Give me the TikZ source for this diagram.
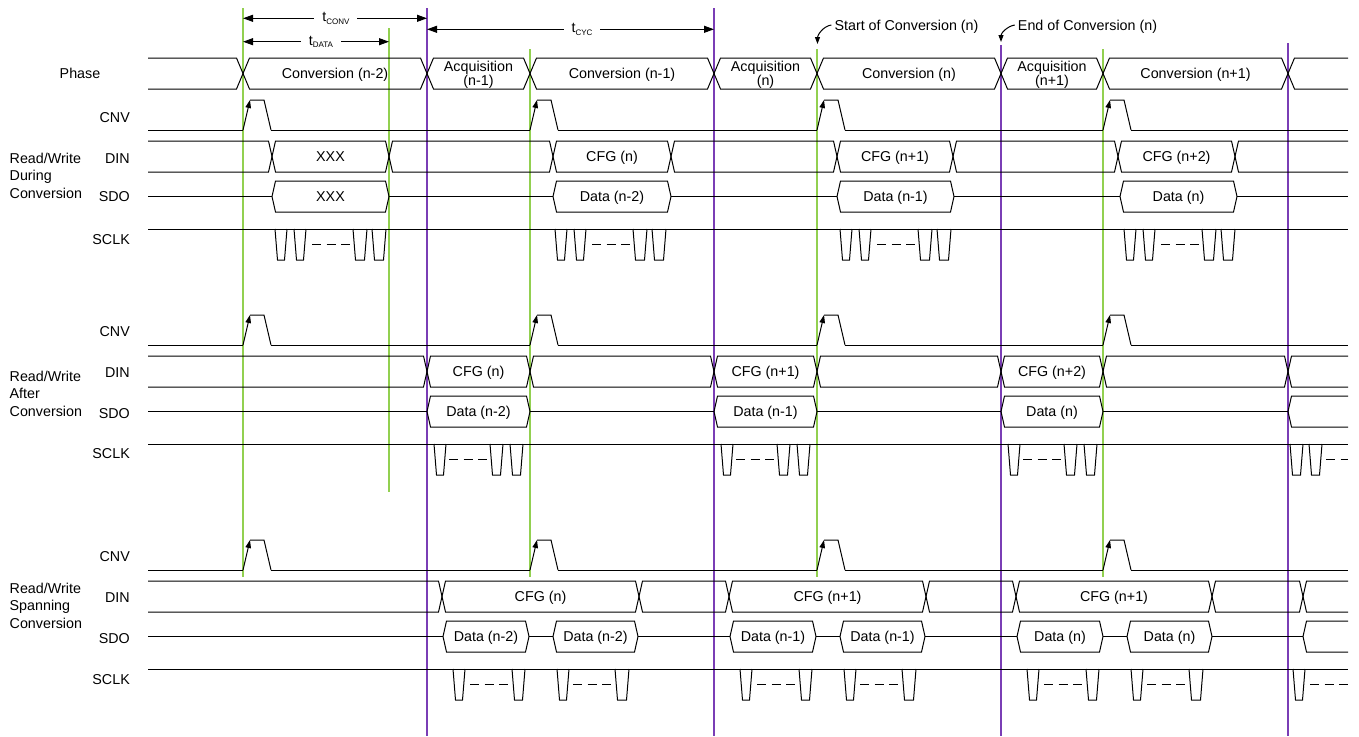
\documentclass[tikz,border=0pt]{standalone}
\usepackage{fontspec}
\setmainfont{Liberation Sans}
\usetikzlibrary{arrows.meta}
\definecolor{gline}{HTML}{92D050}
\definecolor{pline}{HTML}{7A3DB5}
\newcommand{\bhex}[5]{\draw[sig] ({#1},{(#3+#4)/2}) -- ({#1+#5},{#3}) -- ({#2-#5},{#3}) -- ({#2},{(#3+#4)/2}) -- ({#2-#5},{#4}) -- ({#1+#5},{#4}) -- cycle;}
\newcommand{\bopenL}[5]{\draw[sig] ({#1},{#3}) -- ({#2-#5},{#3}) -- ({#2},{(#3+#4)/2}) -- ({#2-#5},{#4}) -- ({#1},{#4});}
\newcommand{\bopenR}[5]{\draw[sig] ({#2},{#3}) -- ({#1+#5},{#3}) -- ({#1},{(#3+#4)/2}) -- ({#1+#5},{#4}) -- ({#2},{#4});}
\newcommand{\idleln}[3]{\draw[sig] ({#1},{#3}) -- ({#2},{#3});}
\newcommand{\sclkp}[3]{\draw[sig] ({#1},{#3}) -- ({#1+2.5},{#3+31}) -- ({#2-2.5},{#3+31}) -- ({#2},{#3});}
\newcommand{\sclkd}[3]{\draw[sig,dash pattern=on 9pt off 5.5pt] ({#1},{#3+15.5}) -- ({#2},{#3+15.5});}
\newcommand{\cnvrow}[2]{%
  \foreach \xa/\xb in {148/243,271/530,558/817,845/1103,1131/1348} {\draw[sig] ({\xa},{#1}) -- ({\xb},{#1});}
  \foreach \xc in {243,530,817,1103} {%
    \draw[sig] ({\xc+7},{#2}) -- ({\xc+21},{#2}) -- ({\xc+28},{#1});
    \draw[sig,-{Triangle[length=8pt,width=5.5pt]}] ({\xc},{#1}) -- ({\xc+7},{#2});}}
\begin{document}
\begin{tikzpicture}[x=1pt,y=-1pt,
  font=\fontsize{14.3}{14}\selectfont,
  sig/.style={line width=1pt,black,line join=miter},
  grn/.style={draw=gline,line width=1.1pt},
  prp/.style={draw=pline,line width=1.1pt},
  txt/.style={inner sep=0pt,text height=10.2pt,text depth=0pt},
  txt2/.style={inner sep=0pt,align=center,font=\fontsize{14.3}{14}\selectfont},
  rl/.style={txt,anchor=east},
  grp/.style={inner sep=0pt,align=left,anchor=west,font=\fontsize{14.3}{17.5}\selectfont},
  dim/.style={line width=1pt,{Triangle[length=10pt,width=7pt]}-{Triangle[length=10pt,width=7pt]}},
  dimlbl/.style={fill=white,inner xsep=8pt,inner ysep=1pt},
  ann/.style={line width=1pt,-{Triangle[length=7pt,width=5pt]}}]
\useasboundingbox (0,0) rectangle (1359,736);
\fill[white] (0,0) rectangle (1359,736);

% guide lines
\draw[grn] (243,8) -- (243,577);
\draw[grn] (389,28) -- (389,492);
\foreach \x in {530,817,1103} {\draw[grn] (\x,49) -- (\x,577);}
\draw[prp] (427,8) -- (427,736);
\draw[prp] (714,8) -- (714,736);
\draw[prp] (1001,45) -- (1001,736);
\draw[prp] (1288,43) -- (1288,736);

% dimension arrows
\coordinate (tcA) at (243,18.3); \coordinate (tcB) at (427,18.3);
\coordinate (tdA) at (243,41.7); \coordinate (tdB) at (389,41.7);
\coordinate (tyA) at (427,29.3); \coordinate (tyB) at (714,29.3);
\draw[dim] (tcA) -- node[dimlbl,pos=0.505] (tconv) {t\raisebox{-2.5pt}{\fontsize{8}{8}\selectfont CONV}} (tcB);
\draw[dim] (tdA) -- node[dimlbl,pos=0.534] (tdata) {t\raisebox{-2.5pt}{\fontsize{8}{8}\selectfont DATA}} (tdB);
\draw[dim] (tyA) -- node[dimlbl,pos=0.54] (tcyc) {t\raisebox{-2.5pt}{\fontsize{8}{8}\selectfont CYC}} (tyB);

% annotations
\node[txt] (soc) at (906.5,25) {Start of Conversion (n)};
\node[txt] (eoc) at (1087.5,25) {End of Conversion (n)};
\coordinate (socT) at (817.5,44);
\coordinate (eocT) at (1001,42);
\draw[ann] ([xshift=-3pt]soc.west) .. controls +(-8,1) and +(0,-9) .. (socT);
\draw[ann] ([xshift=-3pt]eoc.west) .. controls +(-7,1) and +(0,-9) .. (eocT);

% ================= Section 1 =================
\node[txt] (phase) at (80,73.5) {Phase};
\bopenL{148}{243}{58}{89}{6.5}
\bhex{243}{427}{58}{89}{6.5}
\bhex{427}{530}{58}{89}{6.5}
\bhex{530}{714}{58}{89}{6.5}
\bhex{714}{817}{58}{89}{6.5}
\bhex{817}{1001}{58}{89}{6.5}
\bhex{1001}{1103}{58}{89}{6.5}
\bhex{1103}{1288}{58}{89}{6.5}
\bopenR{1288}{1348}{58}{89}{6.5}
\node[txt] (ph1) at (335,73.5) {Conversion (n-2)};
\node[txt2] (ph2) at (478.5,74.3) {Acquisition\\(n-1)};
\node[txt] (ph3) at (622,73.5) {Conversion (n-1)};
\node[txt2] (ph4) at (765.5,74.3) {Acquisition\\(n)};
\node[txt] (ph5) at (909,73.5) {Conversion (n)};
\node[txt2] (ph6) at (1052,74.3) {Acquisition\\(n+1)};
\node[txt] (ph7) at (1195.5,73.5) {Conversion (n+1)};

\node[rl] (cnv1) at (130,117) {CNV};
\node[rl] (din1) at (130,158) {DIN};
\node[rl] (sdo1) at (130,196) {SDO};
\node[rl] (sclk1) at (130,239.5) {SCLK};
\node[grp] (g1) at (9.5,175.8) {Read/Write\\During\\Conversion};

\cnvrow{130}{100}

% DIN
\bopenL{148}{272}{141}{172}{3.5}
\bhex{272}{389}{141}{172}{3.5}
\bhex{389}{553}{141}{172}{3.5}
\bhex{553}{671}{141}{172}{3.5}
\bhex{671}{837}{141}{172}{3.5}
\bhex{837}{953}{141}{172}{3.5}
\bhex{953}{1118}{141}{172}{3.5}
\bhex{1118}{1235}{141}{172}{3.5}
\bopenR{1235}{1348}{141}{172}{3.5}
\node[txt] (d1a) at (330.5,156.5) {XXX};
\node[txt] (d1b) at (612,156.5) {CFG (n)};
\node[txt] (d1c) at (895,156.5) {CFG (n+1)};
\node[txt] (d1d) at (1176.5,156.5) {CFG (n+2)};

% SDO
\idleln{148}{272}{196.5}
\bhex{272}{389}{181}{212}{3.5}
\idleln{389}{553}{196.5}
\bhex{553}{671}{181}{212}{3.5}
\idleln{671}{837}{196.5}
\bhex{837}{954}{181}{212}{3.5}
\idleln{954}{1120}{196.5}
\bhex{1120}{1237}{181}{212}{3.5}
\idleln{1237}{1348}{196.5}
\node[txt] (s1a) at (330.5,196.5) {XXX};
\node[txt] (s1b) at (612,196.5) {Data (n-2)};
\node[txt] (s1c) at (895.5,196.5) {Data (n-1)};
\node[txt] (s1d) at (1178.5,196.5) {Data (n)};

% SCLK
\draw[sig] (148,229) -- (1348,229);
\foreach \g in {275,555,840,1124} {%
  \sclkp{\g}{\g+12}{229}
  \sclkp{\g+19}{\g+31}{229}
  \sclkd{\g+37}{\g+75}{229}
  \sclkp{\g+78}{\g+92}{229}
  \sclkp{\g+97}{\g+111}{229}}

% ================= Section 2 =================
\node[rl] (cnv2) at (130,331) {CNV};
\node[rl] (din2) at (130,372) {DIN};
\node[rl] (sdo2) at (130,413) {SDO};
\node[rl] (sclk2) at (130,453.5) {SCLK};
\node[grp] (g2) at (9.5,393.5) {Read/Write\\After\\Conversion};

\cnvrow{345}{315}

\bopenL{148}{427}{356}{387}{3.5}
\bhex{427}{530}{356}{387}{3.5}
\bhex{530}{714}{356}{387}{3.5}
\bhex{714}{817}{356}{387}{3.5}
\bhex{817}{1001}{356}{387}{3.5}
\bhex{1001}{1103}{356}{387}{3.5}
\bhex{1103}{1288}{356}{387}{3.5}
\bopenR{1288}{1348}{356}{387}{3.5}
\node[txt] (d2a) at (478.5,371.5) {CFG (n)};
\node[txt] (d2b) at (765.5,371.5) {CFG (n+1)};
\node[txt] (d2c) at (1052,371.5) {CFG (n+2)};

\idleln{148}{427}{411.5}
\bhex{427}{530}{396}{427}{3.5}
\idleln{530}{714}{411.5}
\bhex{714}{817}{396}{427}{3.5}
\idleln{817}{1001}{411.5}
\bhex{1001}{1103}{396}{427}{3.5}
\idleln{1103}{1288}{411.5}
\bopenR{1288}{1348}{396}{427}{3.5}
\node[txt] (s2a) at (478.5,411.5) {Data (n-2)};
\node[txt] (s2b) at (765.5,411.5) {Data (n-1)};
\node[txt] (s2c) at (1052,411.5) {Data (n)};

\draw[sig] (148,444) -- (1348,444);
\foreach \p in {427,714,1001} {%
  \sclkp{\p+7}{\p+19}{444}
  \sclkd{\p+22}{\p+61}{444}
  \sclkp{\p+63}{\p+76}{444}
  \sclkp{\p+83}{\p+96}{444}}
\sclkp{1290}{1303}{444}
\sclkp{1309}{1322}{444}
\sclkd{1326}{1348}{444}

% ================= Section 3 =================
\node[rl] (cnv3) at (130,556.5) {CNV};
\node[rl] (din3) at (130,597) {DIN};
\node[rl] (sdo3) at (130,638) {SDO};
\node[rl] (sclk3) at (130,679) {SCLK};
\node[grp] (g3) at (9.5,605.5) {Read/Write\\Spanning\\Conversion};

\cnvrow{570}{540}

\bopenL{148}{442}{581}{612}{3.5}
\bhex{442}{639}{581}{612}{3.5}
\bhex{639}{729}{581}{612}{3.5}
\bhex{729}{926}{581}{612}{3.5}
\bhex{926}{1016}{581}{612}{3.5}
\bhex{1016}{1212}{581}{612}{3.5}
\bhex{1212}{1303}{581}{612}{3.5}
\bopenR{1303}{1348}{581}{612}{3.5}
\node[txt] (d3a) at (540.5,596.5) {CFG (n)};
\node[txt] (d3b) at (827.5,596.5) {CFG (n+1)};
\node[txt] (d3c) at (1114,596.5) {CFG (n+1)};

\idleln{148}{443}{636.5}
\foreach \c/\la/\lb [count=\i] in {443/{Data (n-2)}/{Data (n-2)},730/{Data (n-1)}/{Data (n-1)},1017/{Data (n)}/{Data (n)}} {%
  \bhex{\c}{\c+86}{621}{652}{3.5}
  \idleln{\c+86}{\c+110}{636.5}
  \bhex{\c+110}{\c+195}{621}{652}{3.5}
  \node[txt] (s3a\i) at ({\c+43},636.5) {\la};
  \node[txt] (s3b\i) at ({\c+152.5},636.5) {\lb};}
\idleln{638}{730}{636.5}
\idleln{925}{1017}{636.5}
\idleln{1212}{1303}{636.5}
\bopenR{1303}{1348}{621}{652}{3.5}

\draw[sig] (148,669) -- (1348,669);
\foreach \c in {443,730,1017} {%
  \sclkp{\c+10}{\c+22}{669}
  \sclkd{\c+27}{\c+65}{669}
  \sclkp{\c+69}{\c+82}{669}
  \sclkp{\c+114}{\c+126}{669}
  \sclkd{\c+130}{\c+168}{669}
  \sclkp{\c+172}{\c+186}{669}}
\sclkp{1293}{1305}{669}
\sclkd{1310}{1348}{669}
\end{tikzpicture}
\end{document}
